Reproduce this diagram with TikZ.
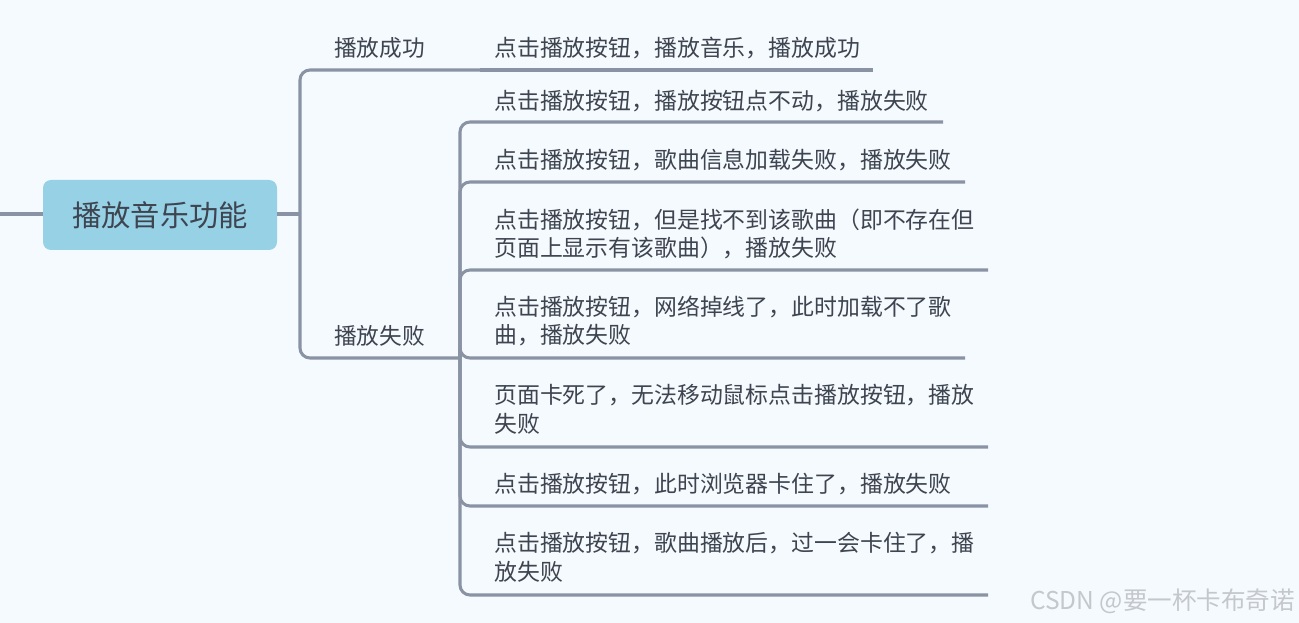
\documentclass[tikz,border=0pt]{standalone}
\usepackage{fontspec}
\setmainfont{Noto Sans CJK SC}
\definecolor{bg}{HTML}{F5FAFE}
\definecolor{linec}{HTML}{8993A4}
\definecolor{rootfill}{HTML}{96D1E6}
\definecolor{txt}{HTML}{3E4550}
\definecolor{wm}{HTML}{C4C8CC}
\tikzset{
  conn/.style={draw=linec, line width=2.3pt, rounded corners=7.5pt},
  rootbox/.style={fill=rootfill, rounded corners=6pt, minimum width=175.5pt, minimum height=52.5pt, inner sep=0pt, text=txt, font=\fontsize{22}{26}\selectfont},
  branchtxt/.style={anchor=west, inner sep=0pt, text=txt, font=\fontsize{17}{21.4}\selectfont},
  leaftxt/.style={anchor=west, inner sep=0pt, align=left, text=txt, font=\fontsize{17.15}{21.4}\selectfont},
}
\begin{document}
\begin{tikzpicture}[x=0.75pt, y=-0.75pt]
\fill[bg] (0,0) rectangle (1299,623);
\useasboundingbox (0,0) rectangle (1299,623);
% root
\coordinate (in) at (0,214);
\node[rootbox] (root) at (160,215) {播放音乐功能};
\draw[conn] (in) -- (root.west |- in);
\coordinate (hub) at (300,214);
\draw[conn] (root.east |- hub) -- (hub);
% branches
\node[branchtxt] (succ) at (334,48) {播放成功};
\node[branchtxt] (fail) at (334,336) {播放失败};
\coordinate (succ-e) at (480,70);
\coordinate (fail-e) at (460,358);
\draw[conn] (hub) |- (succ-e);
\draw[conn] (hub) |- (fail-e);
% leaf of success
\node[leaftxt] (s1) at (494,48) {点击播放按钮，播放音乐，播放成功};
\coordinate (s1-e) at (873,70);
\draw[conn] (succ-e) -- (s1-e);
% leaves of failure
\node[leaftxt] (f1) at (494,101) {点击播放按钮，播放按钮点不动，播放失败};
\node[leaftxt] (f2) at (494,160) {点击播放按钮，歌曲信息加载失败，播放失败};
\node[leaftxt] (f3) at (494,234) {点击播放按钮，但是找不到该歌曲（即不存在但\\页面上显示有该歌曲），播放失败};
\node[leaftxt] (f4) at (494,321) {点击播放按钮，网络掉线了，此时加载不了歌\\曲，播放失败};
\node[leaftxt] (f5) at (494,409.5) {页面卡死了，无法移动鼠标点击播放按钮，播放\\失败};
\node[leaftxt] (f6) at (494,484) {点击播放按钮，此时浏览器卡住了，播放失败};
\node[leaftxt] (f7) at (494,557.5) {点击播放按钮，歌曲播放后，过一会卡住了，播\\放失败};
\coordinate (f1-e) at (943,122);
\coordinate (f2-e) at (965,182);
\coordinate (f3-e) at (988,270);
\coordinate (f4-e) at (965,358);
\coordinate (f5-e) at (988,447);
\coordinate (f6-e) at (988,506);
\coordinate (f7-e) at (988,595);
\foreach \f in {f1,f2,f3,f4,f5,f6,f7}{
  \draw[conn] (fail-e) |- (\f-e);
}
% watermark
\node[anchor=east, inner sep=0pt, text=wm, font=\fontsize{18.4}{21}\selectfont] (wmk) at (1295,601) {CSDN @要一杯卡布奇诺};
\end{tikzpicture}
\end{document}
